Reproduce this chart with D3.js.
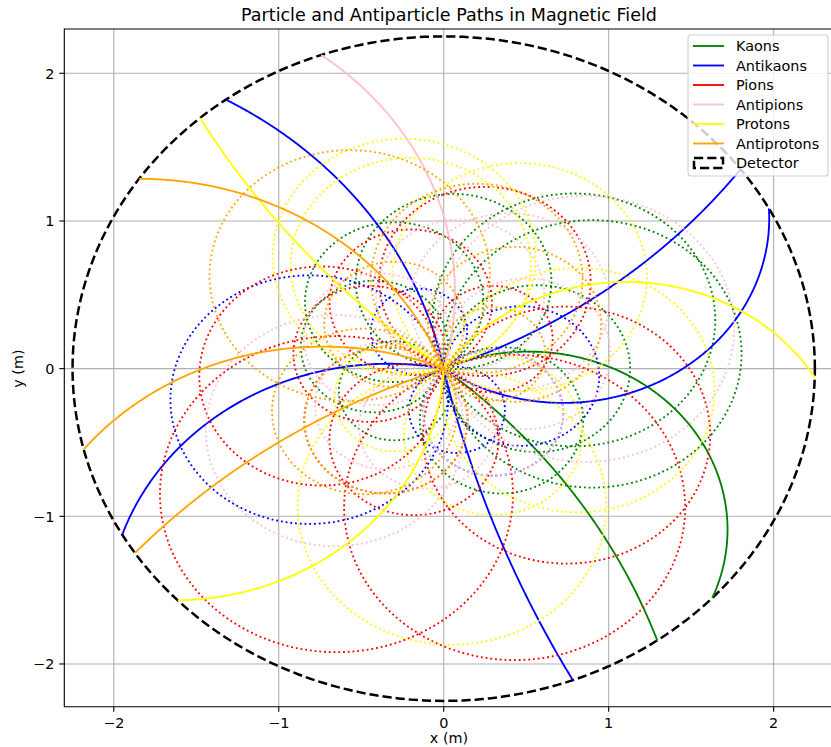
<!DOCTYPE html>
<html><head><meta charset="utf-8">
<script src="https://cdn.jsdelivr.net/npm/d3@7"></script>
<style>body{margin:0;background:#fff} svg{display:block} text{font-family:"DejaVu Sans",sans-serif;fill:#000}</style>
</head><body><svg id="c" width="831" height="747"></svg>
<script>
// ---- data ----
const categories = ["Kaons","Antikaons","Pions","Antipions","Protons","Antiprotons"];
const colors = ["green","blue","red","pink","yellow","orange"];
const charges = [1,-1,1,-1,1,-1];
// circle centres (m) of each track; every track starts at the origin
const kaonCentres = [[0.515,-1.09],[-2.58,-3.19],[0.9,0.1],[0.79,0.33],[0.565,0.0],[-0.42,0.15],[0.06,0.59],[-0.3,0.45],[0.35,-0.35],[-0.3,-0.15]];
const antikaonCentres = [[-2.62,-0.51],[0.725,1.016],[-1.355,3.68],[-0.334,-1.672],[7.6,1.62],[-0.815,-0.21],[0.47,-0.05],[0.3,-0.3],[0.08,-0.28],[-0.15,0.25]];
const pionCentres = [[-0.65,-0.85],[0.43,-0.94],[-0.74,-0.05],[0.745,-0.45],[0.25,0.59],[-0.35,-0.35],[0.3,0.2],[-0.2,0.45],[-0.18,-0.48],[-0.45,0.1]];
const antipionCentres = [[-1.93,0.517],[-0.66,-0.42],[0.86,0.27],[0.4,0.45],[-0.35,-0.25],[0.3,-0.3],[-0.4,0.2],[0.5,0.1],[0.1,0.5],[-0.1,-0.4]];
const protonCentres = [[3.4,4.45],[1.106,-0.748],[-1.642,0.074],[-0.24,0.76],[-0.2,0.70],[0.46,0.62],[0.05,-0.934],[0.814,-0.146],[0.3,-0.45],[-0.3,-0.2]];
const antiprotonCentres = [[-1.846,-0.683],[-0.73,-1.714],[1.53,-4.32],[-0.57,0.63],[0.2,0.61],[0.43,0.3],[-0.48,-0.29],[-0.35,-0.35],[0.3,0.1],[-0.3,0.3]];
const centreSets = [kaonCentres,antikaonCentres,pionCentres,antipionCentres,protonCentres,antiprotonCentres];
const detectorRadius = 2.25;
const xTicks = [-2,-1,0,1,2];
const yTicks = [-2,-1,0,1,2];

// ---- layout ----
const svg = d3.select("#c");
const L = 64.3, R = 834, T = 29, B = 706.8;
const x = d3.scaleLinear().domain([-2.30, 2.366]).range([L, R]);
const y = d3.scaleLinear().domain([-2.29, 2.30]).range([B, T]);
const FS = 14.4;
const LW = 1.85;
const DOT = "1.85 2.9";
const DASH = "9.2 4";

svg.append("defs").append("clipPath").attr("id","clip")
  .append("rect").attr("x",L).attr("y",T).attr("width",R-L).attr("height",B-T);

// grid
const grid = svg.append("g").attr("stroke","#b0b0b0").attr("stroke-width",1.1);
xTicks.forEach(t=>grid.append("line").attr("x1",x(t)).attr("x2",x(t)).attr("y1",T).attr("y2",B));
yTicks.forEach(t=>grid.append("line").attr("y1",y(t)).attr("y2",y(t)).attr("x1",L).attr("x2",R));

const plot = svg.append("g").attr("clip-path","url(#clip)");

// detector
const circ = d3.range(0, 361).map(a=>[detectorRadius*Math.cos(a*Math.PI/180), detectorRadius*Math.sin(a*Math.PI/180)]);
const line = d3.line().x(d=>x(d[0])).y(d=>y(d[1]));
plot.append("path").attr("d", line(circ)).attr("fill","none").attr("stroke","#000")
  .attr("stroke-width",2.5).attr("stroke-dasharray",DASH);

// tracks
function track(c, q){
  const r = Math.hypot(c[0], c[1]);
  const a0 = Math.atan2(-c[1], -c[0]);
  const s = q > 0 ? -1 : 1;
  const exits = 2*r > detectorRadius;
  const tmax = exits ? 2*Math.asin(detectorRadius/(2*r)) : 2*Math.PI;
  const n = 400;
  const pts = d3.range(n+1).map(i=>{const t=a0+s*tmax*i/n; return [c[0]+r*Math.cos(t), c[1]+r*Math.sin(t)];});
  return {pts, exits};
}
categories.forEach((cat,i)=>{
  centreSets[i].forEach(c=>{
    const tr = track(c, charges[i]);
    plot.append("path").attr("d", line(tr.pts)).attr("fill","none")
      .attr("stroke", colors[i]).attr("stroke-width",LW)
      .attr("stroke-dasharray", tr.exits ? null : DOT);
  });
});

// spines
svg.append("path").attr("d",`M${R},${T}H${L}V${B}H${R}`).attr("fill","none").attr("stroke","#000").attr("stroke-width",1.1);

// axes ticks
const fmt = t => (t<0?"\u2212":"")+Math.abs(t);
const ax = svg.append("g");
xTicks.forEach(t=>{
  ax.append("line").attr("x1",x(t)).attr("x2",x(t)).attr("y1",B).attr("y2",B+5).attr("stroke","#000").attr("stroke-width",1.1);
  ax.append("text").attr("x",x(t)).attr("y",B+21).attr("text-anchor","middle").attr("font-size",FS).text(fmt(t));
});
yTicks.forEach(t=>{
  ax.append("line").attr("x1",L-5).attr("x2",L).attr("y1",y(t)).attr("y2",y(t)).attr("stroke","#000").attr("stroke-width",1.1);
  ax.append("text").attr("x",L-10).attr("y",y(t)+5.2).attr("text-anchor","end").attr("font-size",FS).text(fmt(t));
});
svg.append("text").attr("x",449).attr("y",743).attr("text-anchor","middle").attr("font-size",FS).text("x (m)");
svg.append("text").attr("transform",`translate(22.5,${y(0)}) rotate(-90)`).attr("text-anchor","middle").attr("font-size",FS).text("y (m)");
svg.append("text").attr("x",449).attr("y",21).attr("text-anchor","middle").attr("font-size",17.5).text("Particle and Antiparticle Paths in Magnetic Field");

// legend
const lg = svg.append("g");
lg.append("rect").attr("x",688).attr("y",35).attr("width",140).attr("height",141).attr("rx",3)
  .attr("fill","#fff").attr("fill-opacity",0.8).attr("stroke","#d0d0d0").attr("stroke-width",1.1);
const legendItems = categories.concat(["Detector"]);
legendItems.forEach((name,i)=>{
  const yy = 46 + i*19.5;
  if (i < categories.length) {
    lg.append("line").attr("x1",693).attr("x2",724).attr("y1",yy).attr("y2",yy).attr("stroke",colors[i]).attr("stroke-width",LW);
  } else {
    lg.append("rect").attr("x",694).attr("y",yy-5).attr("width",29).attr("height",10).attr("fill","none")
      .attr("stroke","#000").attr("stroke-width",2.5).attr("stroke-dasharray",DASH);
  }
  lg.append("text").attr("x",736).attr("y",yy+5.2).attr("font-size",FS).text(name);
});
</script></body></html>
